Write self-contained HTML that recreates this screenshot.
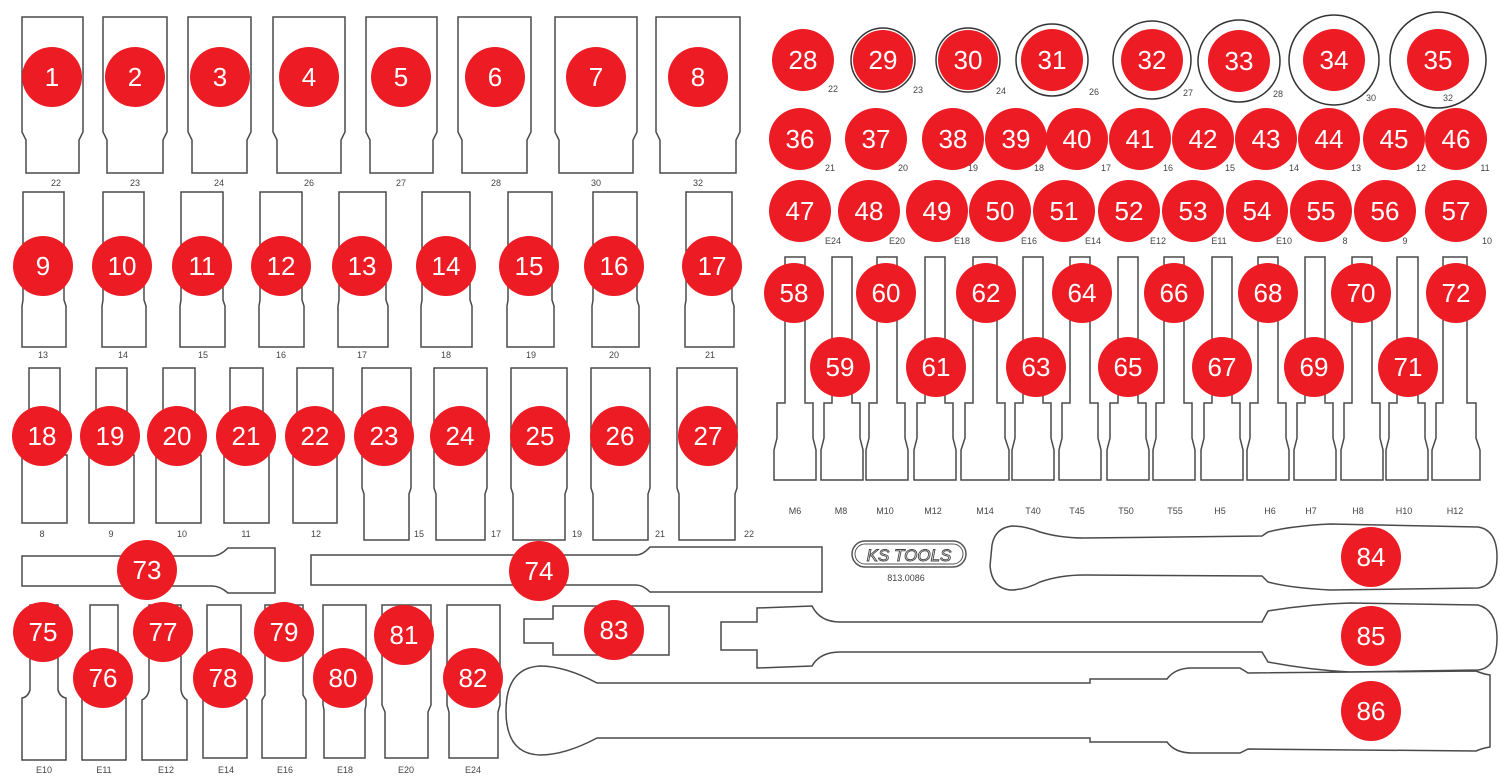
<!DOCTYPE html>
<html><head><meta charset="utf-8"><style>
html,body{margin:0;padding:0;background:#fff;}
svg{display:block;}
.o{fill:#fff;stroke:#4a4a4a;stroke-width:1.5;}
.c{fill:#ed1c24;}
.n{fill:#fff;font-family:"Liberation Sans",sans-serif;font-size:26px;text-anchor:middle;}
.l{fill:#444;font-family:"Liberation Sans",sans-serif;font-size:9px;text-anchor:middle;}
.r{fill:none;stroke:#333;stroke-width:1.5;}
</style></head><body>
<svg width="1500" height="780" viewBox="0 0 1500 780" xmlns="http://www.w3.org/2000/svg">
<g class="o">
<path d="M22 17H83V132L79 140V173H26V140L22 132Z"/>
<path d="M103 17H167V132L163 140V173H107V140L103 132Z"/>
<path d="M188 17H251V132L247 140V173H192V140L188 132Z"/>
<path d="M273 17H345V132L341 140V173H277V140L273 132Z"/>
<path d="M366 17H437V132L433 140V173H370V140L366 132Z"/>
<path d="M458 17H531V132L527 140V173H462V140L458 132Z"/>
<path d="M555 17H637V132L633 140V173H559V140L555 132Z"/>
<path d="M656 17H740V132L736 140V173H660V140L656 132Z"/>
</g>
<g class="l">
<text x="56" y="186">22</text><text x="135" y="186">23</text><text x="219" y="186">24</text><text x="309" y="186">26</text><text x="401" y="186">27</text><text x="496" y="186">28</text><text x="596" y="186">30</text><text x="698" y="186">32</text>
</g>
<g class="o">
<path d="M23 192H64V300L66 306V347H22V306L23 300Z"/>
<path d="M103 192H144V300L146 306V347H102V306L103 300Z"/>
<path d="M181 192H223V300L225 306V347H180V306L181 300Z"/>
<path d="M260 192H302V300L304 306V347H259V306L260 300Z"/>
<path d="M339 192H386V300L388 306V347H338V306L339 300Z"/>
<path d="M422 192H470V300L472 306V347H421V306L422 300Z"/>
<path d="M508 192H552V300L554 306V347H507V306L508 300Z"/>
<path d="M593 192H637V300L639 306V347H592V306L593 300Z"/>
<path d="M686 192H732V300L734 306V347H685V306L686 300Z"/>
</g>
<g class="l">
<text x="43" y="358">13</text><text x="123" y="358">14</text><text x="203" y="358">15</text><text x="281" y="358">16</text><text x="362" y="358">17</text><text x="446" y="358">18</text><text x="531" y="358">19</text><text x="614" y="358">20</text><text x="710" y="358">21</text>
</g>
<g class="o">
<path d="M29 368H60V455H67V523H22V455H29Z"/>
<path d="M96 368H127V455H134V523H89V455H96Z"/>
<path d="M163 368H195V455H201V523H156V455H163Z"/>
<path d="M230 368H263V455H269V523H224V455H230Z"/>
<path d="M297 368H333V455H337V523H293V455H297Z"/>
<path d="M362 368H411V488L409 494V540H364V494L362 488Z"/>
<path d="M434 368H487V488L485 494V540H436V494L434 488Z"/>
<path d="M511 368H567V488L565 494V540H513V494L511 488Z"/>
<path d="M591 368H650V488L648 494V540H593V494L591 488Z"/>
<path d="M677 368H737V488L735 494V540H679V494L677 488Z"/>
</g>
<g class="l">
<text x="42" y="537">8</text><text x="111" y="537">9</text><text x="182" y="537">10</text><text x="246" y="537">11</text><text x="316" y="537">12</text>
<text x="419" y="537">15</text><text x="496" y="537">17</text><text x="577" y="537">19</text><text x="660" y="537">21</text><text x="749" y="537">22</text>
</g>
<g class="o">
<path d="M22 556H212Q220 556 228 548H275V593H228Q220 586 212 586H22Z"/>
<path d="M311 555H636Q643 555 650 547H822V592H650Q643 585 636 585H311Z"/>
</g>
<g class="o">
<path d="M30 605H58V690Q60 697 66 698V760H22V698Q28 697 30 690Z"/>
<path d="M90 605H118V690Q120 697 126 698V760H82V698Q88 697 90 690Z"/>
<path d="M149 605H181V690Q182 697 187 700V760H142V700Q148 697 149 690Z"/>
<path d="M207 605H241V695L247 700V758H203V700L207 695Z"/>
<path d="M265 605H303V695L306 700V758H262V700L265 695Z"/>
<path d="M323 605H366V705L365 710V758H324V710L323 705Z"/>
<path d="M382 605H431V705L428 712V758H385V712L382 705Z"/>
<path d="M447 605H500V705L498 712V758H449V712L447 705Z"/>
</g>
<g class="l">
<text x="44" y="773">E10</text><text x="104" y="773">E11</text><text x="166" y="773">E12</text><text x="226" y="773">E14</text><text x="285" y="773">E16</text><text x="345" y="773">E18</text><text x="406" y="773">E20</text><text x="473" y="773">E24</text>
</g>
<g class="o">
<path d="M785 257H805V403H813V438L816 450V480H774V450L777 438V403H785Z"/>
<path d="M832 257H852V403H860V438L863 450V480H821V450L824 438V403H832Z"/>
<path d="M877 257H897V403H905V438L908 450V480H866V450L869 438V403H877Z"/>
<path d="M925 257H945V403H953V438L956 450V480H914V450L917 438V403H925Z"/>
<path d="M973 257H997V403H1005V438L1009 450V480H961V450L965 438V403H973Z"/>
<path d="M1023 257H1043V403H1051V438L1054 450V480H1012V450L1015 438V403H1023Z"/>
<path d="M1070 257H1090V403H1098V438L1101 450V480H1059V450L1062 438V403H1070Z"/>
<path d="M1118 257H1138V403H1146V438L1149 450V480H1107V450L1110 438V403H1118Z"/>
<path d="M1164 257H1184V403H1192V438L1195 450V480H1153V450L1156 438V403H1164Z"/>
<path d="M1212 257H1232V403H1240V438L1243 450V480H1201V450L1204 438V403H1212Z"/>
<path d="M1258 257H1278V403H1286V438L1289 450V480H1247V450L1250 438V403H1258Z"/>
<path d="M1305 257H1325V403H1333V438L1336 450V480H1294V450L1297 438V403H1305Z"/>
<path d="M1352 257H1372V403H1380V438L1383 450V480H1341V450L1344 438V403H1352Z"/>
<path d="M1397 257H1418V403H1425V438L1428 450V480H1386V450L1389 438V403H1397Z"/>
<path d="M1443 257H1467V403H1476V438L1480 450V480H1432V450L1436 438V403H1443Z"/>
</g>
<g class="l">
<text x="795" y="514">M6</text><text x="841" y="514">M8</text><text x="885" y="514">M10</text><text x="933" y="514">M12</text><text x="985" y="514">M14</text><text x="1033" y="514">T40</text><text x="1077" y="514">T45</text><text x="1126" y="514">T50</text><text x="1175" y="514">T55</text><text x="1220" y="514">H5</text><text x="1270" y="514">H6</text><text x="1311" y="514">H7</text><text x="1358" y="514">H8</text><text x="1404" y="514">H10</text><text x="1455" y="514">H12</text>
</g>
<rect x="852" y="541" width="114" height="26" rx="13" fill="none" stroke="#555" stroke-width="1.5"/>
<rect x="855" y="544" width="108" height="20" rx="10" fill="none" stroke="#555" stroke-width="1"/>
<text x="909" y="561" font-family="Liberation Sans,sans-serif" font-size="17" font-style="italic" text-anchor="middle" fill="#fff" stroke="#444" stroke-width="0.9">KS TOOLS</text>
<text x="906" y="581" class="l">813.0086</text>
<path class="o" d="M524 619H553V606H669V655H553V643H524Z"/>
<path class="o" d="M992 545Q995 528 1012 526Q1025 526 1040 532Q1060 538 1084 538L1262 536L1268 532Q1290 526 1330 524L1478 527Q1497 530 1497 557Q1497 585 1478 588L1330 590Q1290 588 1268 582L1262 576L1084 575Q1060 575 1040 582Q1025 590 1010 590Q992 588 990 566Z"/>
<path class="o" d="M721 622H757V608L812 606Q820 622 840 622L1262 622L1268 611Q1310 604 1350 603L1478 605Q1497 610 1497 638Q1497 668 1478 670L1350 672Q1310 670 1268 662L1262 652L840 652Q820 652 812 666L757 668V650H721Z"/>
<path class="o" d="M506 711Q506 668 540 666Q565 666 597 683L1090 683V679L1167 679Q1175 668 1192 668H1240L1248 673L1476 671Q1483 674 1490 675V747Q1483 748 1476 751L1248 749L1240 753H1192Q1175 753 1167 742L1090 742V738L597 738Q565 755 540 755Q506 754 506 711Z"/>
<circle class="r" cx="883" cy="60" r="32"/>
<circle class="r" cx="968" cy="60" r="32"/>
<circle class="r" cx="1052" cy="60" r="36"/>
<circle class="r" cx="1152" cy="60" r="39"/>
<circle class="r" cx="1239" cy="61" r="41"/>
<circle class="r" cx="1334" cy="60" r="45"/>
<circle class="r" cx="1438" cy="60" r="48"/>
<g class="l">
<text x="833" y="92">22</text><text x="918" y="93">23</text><text x="1001" y="94">24</text><text x="1094" y="95">26</text><text x="1188" y="96">27</text><text x="1278" y="97">28</text><text x="1371" y="101">30</text><text x="1448" y="101">32</text>
<text x="830" y="171">21</text><text x="903" y="171">20</text><text x="973" y="171">19</text><text x="1039" y="171">18</text><text x="1106" y="171">17</text><text x="1168" y="171">16</text><text x="1230" y="171">15</text><text x="1294" y="171">14</text><text x="1356" y="171">13</text><text x="1421" y="171">12</text><text x="1485" y="171">11</text>
<text x="833" y="244">E24</text><text x="897" y="244">E20</text><text x="962" y="244">E18</text><text x="1029" y="244">E16</text><text x="1093" y="244">E14</text><text x="1158" y="244">E12</text><text x="1219" y="244">E11</text><text x="1284" y="244">E10</text><text x="1345" y="244">8</text><text x="1405" y="244">9</text><text x="1487" y="244">10</text>
</g>
<g class="c">
<circle cx="52" cy="77" r="30"/><circle cx="135" cy="77" r="30"/><circle cx="220" cy="77" r="30"/><circle cx="309" cy="77" r="30"/><circle cx="401" cy="77" r="30"/><circle cx="495" cy="77" r="30"/><circle cx="596" cy="77" r="30"/><circle cx="698" cy="77" r="30"/>
<circle cx="43" cy="266" r="30"/><circle cx="122" cy="266" r="30"/><circle cx="202" cy="266" r="30"/><circle cx="281" cy="266" r="30"/><circle cx="362" cy="266" r="30"/><circle cx="446" cy="266" r="30"/><circle cx="529" cy="266" r="30"/><circle cx="614" cy="266" r="30"/><circle cx="712" cy="266" r="30"/>
<circle cx="42" cy="436" r="30"/><circle cx="110" cy="436" r="30"/><circle cx="177" cy="436" r="30"/><circle cx="246" cy="436" r="30"/><circle cx="315" cy="436" r="30"/><circle cx="384" cy="436" r="30"/><circle cx="460" cy="436" r="30"/><circle cx="540" cy="436" r="30"/><circle cx="620" cy="436" r="30"/><circle cx="708" cy="436" r="30"/>
<circle cx="147" cy="570" r="30"/><circle cx="539" cy="571" r="30"/>
<circle cx="43" cy="632" r="30"/><circle cx="103" cy="678" r="30"/><circle cx="163" cy="632" r="30"/><circle cx="223" cy="678" r="30"/><circle cx="284" cy="632" r="30"/><circle cx="343" cy="678" r="30"/><circle cx="404" cy="635" r="30"/><circle cx="473" cy="678" r="30"/>
<circle cx="614" cy="630" r="30"/><circle cx="1371" cy="557" r="30"/><circle cx="1371" cy="636" r="30"/><circle cx="1371" cy="711" r="30"/>
<circle cx="803" cy="60" r="31"/><circle cx="883" cy="60" r="30"/><circle cx="968" cy="60" r="30"/><circle cx="1052" cy="60" r="31"/><circle cx="1152" cy="60" r="31"/><circle cx="1239" cy="61" r="31"/><circle cx="1334" cy="60" r="31"/><circle cx="1438" cy="60" r="31"/>
<circle cx="800" cy="139" r="31"/><circle cx="876" cy="139" r="31"/><circle cx="953" cy="139" r="31"/><circle cx="1016" cy="139" r="31"/><circle cx="1077" cy="139" r="31"/><circle cx="1140" cy="139" r="31"/><circle cx="1203" cy="139" r="31"/><circle cx="1266" cy="139" r="31"/><circle cx="1329" cy="139" r="31"/><circle cx="1394" cy="139" r="31"/><circle cx="1456" cy="139" r="31"/>
<circle cx="800" cy="211" r="31"/><circle cx="869" cy="211" r="31"/><circle cx="937" cy="211" r="31"/><circle cx="1000" cy="211" r="31"/><circle cx="1064" cy="211" r="31"/><circle cx="1129" cy="211" r="31"/><circle cx="1193" cy="211" r="31"/><circle cx="1257" cy="211" r="31"/><circle cx="1321" cy="211" r="31"/><circle cx="1385" cy="211" r="31"/><circle cx="1456" cy="211" r="31"/>
<circle cx="794" cy="293" r="30"/><circle cx="840" cy="367" r="30"/><circle cx="886" cy="293" r="30"/><circle cx="936" cy="367" r="30"/><circle cx="986" cy="293" r="30"/><circle cx="1036" cy="367" r="30"/><circle cx="1082" cy="293" r="30"/><circle cx="1128" cy="367" r="30"/><circle cx="1174" cy="293" r="30"/><circle cx="1222" cy="367" r="30"/><circle cx="1268" cy="293" r="30"/><circle cx="1314" cy="367" r="30"/><circle cx="1361" cy="293" r="30"/><circle cx="1408" cy="367" r="30"/><circle cx="1456" cy="293" r="30"/>
</g>
<g class="n">
<text x="52" y="86">1</text><text x="135" y="86">2</text><text x="220" y="86">3</text><text x="309" y="86">4</text><text x="401" y="86">5</text><text x="495" y="86">6</text><text x="596" y="86">7</text><text x="698" y="86">8</text>
<text x="43" y="275">9</text><text x="122" y="275">10</text><text x="202" y="275">11</text><text x="281" y="275">12</text><text x="362" y="275">13</text><text x="446" y="275">14</text><text x="529" y="275">15</text><text x="614" y="275">16</text><text x="712" y="275">17</text>
<text x="42" y="445">18</text><text x="110" y="445">19</text><text x="177" y="445">20</text><text x="246" y="445">21</text><text x="315" y="445">22</text><text x="384" y="445">23</text><text x="460" y="445">24</text><text x="540" y="445">25</text><text x="620" y="445">26</text><text x="708" y="445">27</text>
<text x="147" y="579">73</text><text x="539" y="580">74</text>
<text x="43" y="641">75</text><text x="103" y="687">76</text><text x="163" y="641">77</text><text x="223" y="687">78</text><text x="284" y="641">79</text><text x="343" y="687">80</text><text x="404" y="644">81</text><text x="473" y="687">82</text>
<text x="614" y="639">83</text><text x="1371" y="566">84</text><text x="1371" y="645">85</text><text x="1371" y="720">86</text>
<text x="803" y="69">28</text><text x="883" y="69">29</text><text x="968" y="69">30</text><text x="1052" y="69">31</text><text x="1152" y="69">32</text><text x="1239" y="70">33</text><text x="1334" y="69">34</text><text x="1438" y="69">35</text>
<text x="800" y="148">36</text><text x="876" y="148">37</text><text x="953" y="148">38</text><text x="1016" y="148">39</text><text x="1077" y="148">40</text><text x="1140" y="148">41</text><text x="1203" y="148">42</text><text x="1266" y="148">43</text><text x="1329" y="148">44</text><text x="1394" y="148">45</text><text x="1456" y="148">46</text>
<text x="800" y="220">47</text><text x="869" y="220">48</text><text x="937" y="220">49</text><text x="1000" y="220">50</text><text x="1064" y="220">51</text><text x="1129" y="220">52</text><text x="1193" y="220">53</text><text x="1257" y="220">54</text><text x="1321" y="220">55</text><text x="1385" y="220">56</text><text x="1456" y="220">57</text>
<text x="794" y="302">58</text><text x="840" y="376">59</text><text x="886" y="302">60</text><text x="936" y="376">61</text><text x="986" y="302">62</text><text x="1036" y="376">63</text><text x="1082" y="302">64</text><text x="1128" y="376">65</text><text x="1174" y="302">66</text><text x="1222" y="376">67</text><text x="1268" y="302">68</text><text x="1314" y="376">69</text><text x="1361" y="302">70</text><text x="1408" y="376">71</text><text x="1456" y="302">72</text>
</g>
</svg>
</body></html>
